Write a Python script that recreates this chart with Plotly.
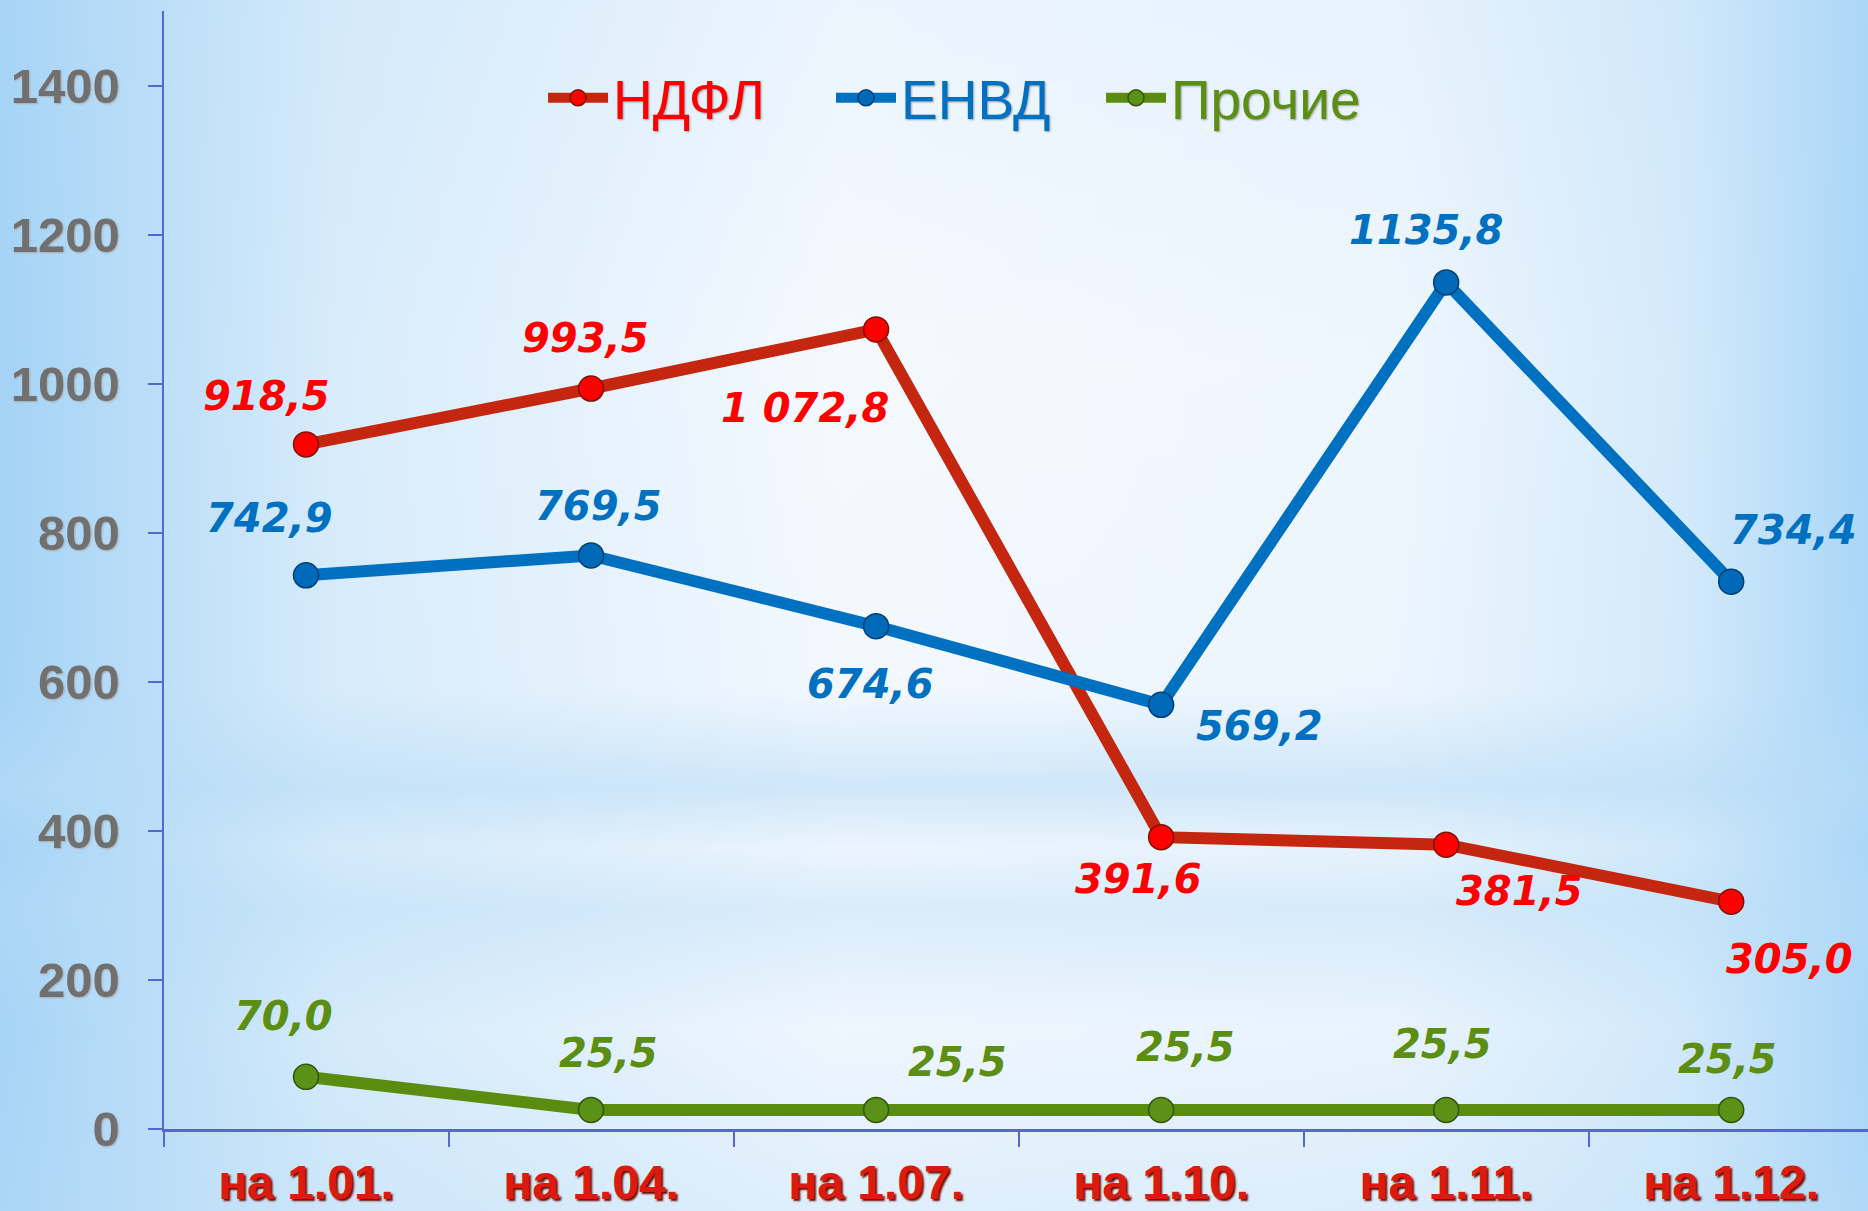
import base64
import plotly.graph_objects as go

categories = ["на 1.01.", "на 1.04.", "на 1.07.", "на 1.10.", "на 1.11.", "на 1.12."]
ndfl = [918.5, 993.5, 1072.8, 391.6, 381.5, 305.0]
envd = [742.9, 769.5, 674.6, 569.2, 1135.8, 734.4]
other = [70.0, 25.5, 25.5, 25.5, 25.5, 25.5]
ndfl_labels = ["918,5", "993,5", "1 072,8", "391,6", "381,5", "305,0"]
envd_labels = ["742,9", "769,5", "674,6", "569,2", "1135,8", "734,4"]
other_labels = ["70,0", "25,5", "25,5", "25,5", "25,5", "25,5"]
y_ticks = [0, 200, 400, 600, 800, 1000, 1200, 1400]

W, H = 1868, 1211

svg = f"""<svg xmlns='http://www.w3.org/2000/svg' width='{W}' height='{H}' viewBox='0 0 {W} {H}' preserveAspectRatio='none'>
<defs>
<linearGradient id='h' x1='0' y1='0' x2='1' y2='0'>
<stop offset='0' stop-color='#a4d3f6'/>
<stop offset='0.18' stop-color='#d8ecfb'/>
<stop offset='0.45' stop-color='#f5f9fe'/>
<stop offset='0.75' stop-color='#eef6fd'/>
<stop offset='0.9' stop-color='#d4eafb'/>
<stop offset='1' stop-color='#a9d6f7'/>
</linearGradient>
<linearGradient id='v' x1='0' y1='0' x2='0' y2='1'>
<stop offset='0' stop-color='#b8dcf7' stop-opacity='0.15'/>
<stop offset='0.3' stop-color='#b8dcf7' stop-opacity='0'/>
<stop offset='0.57' stop-color='#b8dcf7' stop-opacity='0.05'/>
<stop offset='0.65' stop-color='#b8dcf7' stop-opacity='0.6'/>
<stop offset='0.70' stop-color='#b8dcf7' stop-opacity='0.15'/>
<stop offset='0.75' stop-color='#b8dcf7' stop-opacity='0.45'/>
<stop offset='0.85' stop-color='#b8dcf7' stop-opacity='0.1'/>
<stop offset='1' stop-color='#b8dcf7' stop-opacity='0.35'/>
</linearGradient>
</defs>
<rect width='{W}' height='{H}' fill='url(#h)'/>
<rect width='{W}' height='{H}' fill='url(#v)'/>
</svg>"""
bg_src = "data:image/svg+xml;base64," + base64.b64encode(svg.encode("utf-8")).decode("ascii")

series = [
    ("НДФЛ", ndfl, ndfl_labels, "#c4260f", "#ff0000", "#7a1405", "#ff0000"),
    ("ЕНВД", envd, envd_labels, "#0070c0", "#0069b8", "#003f73", "#0070c0"),
    ("Прочие", other, other_labels, "#5a8c10", "#5b9116", "#345408", "#5b8e12"),
]
legend_pad = ["\u00a0\u00a0\u00a0\u00a0", "\u00a0\u00a0\u00a0", ""]

fig = go.Figure()
for (name, vals, labs, lc, mc, oc, tc), pad in zip(series, legend_pad):
    fig.add_trace(go.Scatter(
        x=categories, y=vals, mode="lines+markers",
        name=f"<span style='color:{tc}'>{name}</span>{pad}",
        line=dict(color=lc, width=12),
        marker=dict(size=25, color=mc, line=dict(color=oc, width=1.5)),
        hoverinfo="skip",
    ))

# label offsets (pixels) relative to the data point
offsets = {
    "НДФЛ": [(-40, -48), (-6, -51), (-71, 79), (-23, 42), (73, 46), (58, 57)],
    "ЕНВД": [(-37, -57), (7, -49), (-6, 58), (98, 21), (-20, -52), (62, -52)],
    "Прочие": [(-23, -61), (17, -57), (81, -48), (24, -63), (-4, -66), (-4, -51)],
}
annotations = []
for name, vals, labs, lc, mc, oc, tc in series:
    for i, (c, v, t) in enumerate(zip(categories, vals, labs)):
        dx, dy = offsets[name][i]
        annotations.append(dict(
            x=c, y=v, xref="x", yref="y", text=f"<b><i>{t}</i></b>",
            showarrow=False, xshift=dx, yshift=-dy,
            font=dict(family="DejaVu Sans", size=40, color=tc),
            xanchor="center", yanchor="middle",
        ))

fig.update_layout(
    width=W, height=H,
    margin=dict(l=0, r=0, t=0, b=0, autoexpand=False),
    paper_bgcolor="#e4f1fc",
    plot_bgcolor="rgba(0,0,0,0)",
    showlegend=True,
    legend=dict(
        orientation="h", x=0.511, y=0.919, xanchor="center", yanchor="middle",
        font=dict(family="Liberation Sans", size=55, shadow="1px 1px 2px rgba(0,0,0,0.35)"),
        bgcolor="rgba(0,0,0,0)", itemwidth=60, traceorder="normal",
    ),
    annotations=annotations,
    images=[dict(source=bg_src, xref="paper", yref="paper", x=0, y=1,
                 sizex=1, sizey=1, sizing="stretch", layer="below",
                 xanchor="left", yanchor="top")],
    xaxis=dict(
        domain=[163.5 / W, 1.0], range=[-0.5, 5.48], automargin=False,
        type="category", categoryorder="array", categoryarray=categories,
        showline=True, linecolor="#5468d0", linewidth=2.5,
        ticks="outside", tickson="boundaries", ticklen=15, tickcolor="#5468d0", tickwidth=1.5,
        showgrid=False, zeroline=False,
        tickfont=dict(family="Liberation Sans", size=48, color="#dd1a10", weight="bold",
                      shadow="2px 2px 2px #6a0a00"),
        ticklabelstandoff=10,
    ),
    yaxis=dict(
        domain=[(H - 1129) / H, (H - 11) / H], range=[0, 1500], automargin=False,
        showline=True, linecolor="#5468d0", linewidth=2,
        ticks="outside", ticklen=14, tickcolor="#5468d0", tickwidth=2,
        tickvals=y_ticks, ticktext=[str(v) for v in y_ticks],
        showgrid=False, zeroline=False,
        tickfont=dict(family="Liberation Sans", size=49, color="#707070", weight="bold",
                      shadow="1px 1px 2px #aaaaaa"),
        ticklabelstandoff=18,
    ),
)

fig.write_html("out.html", config={"displayModeBar": False},
               post_script="document.body.style.margin='0';document.body.style.overflow='hidden';")
